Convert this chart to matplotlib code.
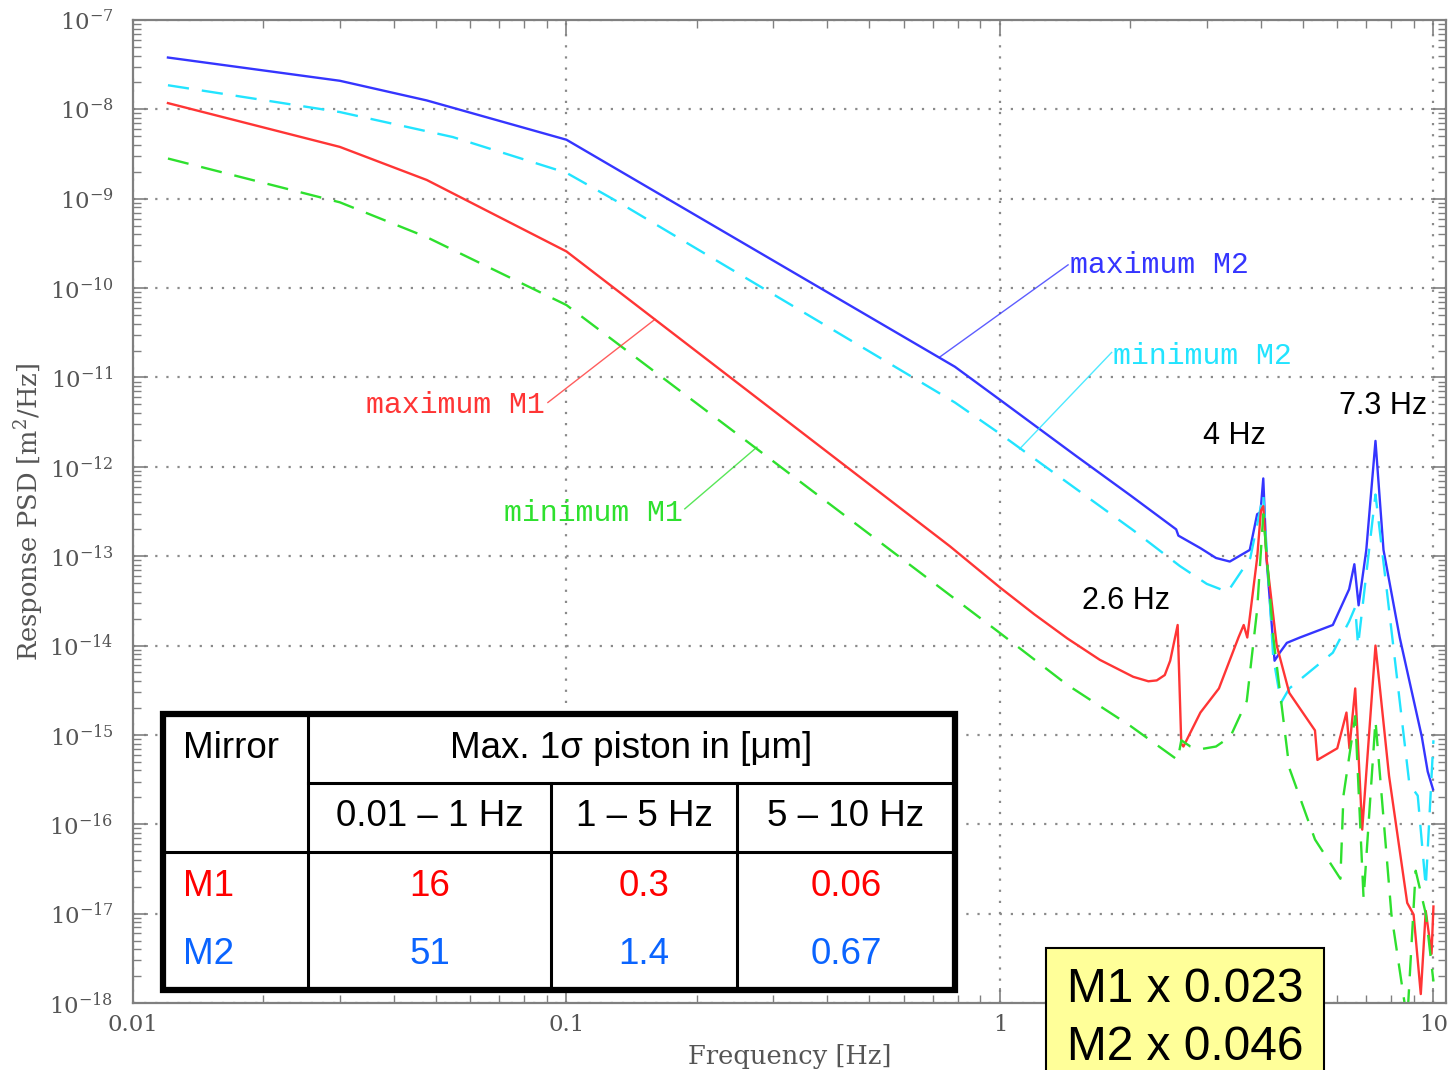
import numpy as np
import matplotlib
matplotlib.use("Agg")
import matplotlib.pyplot as plt
from matplotlib.ticker import LogLocator, FuncFormatter, NullFormatter
from matplotlib.patches import Rectangle

# --- response PSD curves: frequency [Hz] and log10(PSD [m^2/Hz]) ---
m2_max_f = [0.01204, 0.030, 0.0476, 0.1, 0.787, 1.0, 1.5, 2.0, 2.55, 2.58, 2.9, 3.15, 3.39,
            3.77, 3.92, 3.99, 4.05, 4.12, 4.3, 4.42, 4.59, 4.92, 5.86, 6.39, 6.57, 6.72,
            7.0, 7.35, 7.67, 8.36, 9.4, 9.7, 9.98]
m2_max_lg = [-7.42, -7.68, -7.90, -8.34, -10.88, -11.25, -11.88, -12.32, -12.70, -12.77, -12.91,
             -13.02, -13.06, -12.93, -12.53, -12.51, -12.13, -13.02, -14.17, -14.08, -13.97,
             -13.91, -13.77, -13.37, -13.09, -13.55, -12.93, -11.71, -12.93, -13.91, -15.02,
             -15.41, -15.61]

m2_min_f = [0.01204, 0.0215, 0.030, 0.0547, 0.1, 0.133, 0.62, 0.787, 1.0, 2.03, 2.6, 3.0, 3.35,
            3.78, 4.05, 4.27, 4.45, 4.65, 5.86, 6.39, 6.6, 6.7, 7.35, 7.8, 8.8, 9.2, 9.6, 10.0]
m2_min_lg = [-7.73, -7.92, -8.03, -8.31, -8.71, -9.05, -10.98, -11.28, -11.63, -12.71, -13.11,
             -13.31, -13.40, -13.02, -12.31, -14.13, -14.64, -14.48, -14.08, -13.73, -13.57,
             -14.00, -12.31, -13.37, -15.55, -15.68, -16.70, -15.06]

m1_max_f = [0.01204, 0.030, 0.0476, 0.1, 0.767, 1.0, 1.2, 1.43, 1.7, 2.03, 2.2, 2.3, 2.4, 2.47,
            2.57, 2.62, 2.65, 2.9, 3.2, 3.55, 3.65, 3.72, 3.92, 4.0, 4.05, 4.12, 4.35, 4.65,
            5.33, 5.4, 6.0, 6.3, 6.4, 6.6, 6.85, 7.35, 7.9, 8.7, 9.0, 9.35, 9.6, 9.9, 10.0]
m1_max_lg = [-7.93, -8.42, -8.79, -9.59, -12.89, -13.35, -13.65, -13.92, -14.16, -14.35, -14.40,
             -14.39, -14.33, -14.17, -13.77, -15.10, -15.13, -14.75, -14.48, -13.91, -13.77,
             -13.91, -13.02, -12.49, -12.44, -13.02, -14.00, -14.53, -14.95, -15.28, -15.15,
             -14.75, -15.15, -14.48, -16.06, -14.00, -15.46, -16.88, -17.01, -17.90, -16.97,
             -17.45, -16.92]

m1_min_f = [0.01204, 0.030, 0.0476, 0.1, 0.275, 1.0, 1.43, 2.0, 2.57, 2.62, 2.75, 2.9, 3.15,
            3.4, 3.71, 3.92, 4.05, 4.27, 4.65, 5.33, 6.1, 6.2, 6.6, 6.9, 7.35, 8.0, 8.7, 9.1,
            9.6, 10.0]
m1_min_lg = [-8.55, -9.04, -9.43, -10.19, -11.80, -13.86, -14.44, -14.90, -15.28, -15.06, -15.13,
             -15.16, -15.13, -15.02, -14.62, -13.60, -12.53, -13.90, -15.37, -16.17, -16.61,
             -15.68, -14.79, -16.83, -14.84, -17.01, -18.20, -16.52, -17.00, -17.76]

# resonance labels (frequency position, log10 height)
peak_text = ["2.6 Hz", "4 Hz", "7.3 Hz"]
peak_pos_f = [1.95, 3.47, 7.65]
peak_pos_lg = [-13.50, -11.66, -11.32]

# table of max 1-sigma piston
mirrors = ["M1", "M2"]
bands = ["0.01 \u2013 1 Hz", "1 \u2013 5 Hz", "5 \u2013 10 Hz"]
piston = [["16", "0.3", "0.06"], ["51", "1.4", "0.67"]]
scales = ["M1 x 0.023", "M2 x 0.046"]

c_blue, c_cyan, c_red, c_green = "#3535ff", "#22e4ff", "#ff3535", "#2ee02e"
t_red, t_blue = "#ff0000", "#0a64ff"

plt.rcParams["mathtext.fontset"] = "dejavuserif"

fig = plt.figure(figsize=(14.51, 10.70), dpi=100)
ax = fig.add_axes([133 / 1451, 1 - 1003 / 1070, (1446 - 133) / 1451, (1003 - 20) / 1070])

dash = (0, (9, 5.5))
ax.plot(m2_max_f, 10.0 ** np.array(m2_max_lg), color=c_blue, lw=1.7)
ax.plot(m2_min_f, 10.0 ** np.array(m2_min_lg), color=c_cyan, lw=1.7, ls=dash)
ax.plot(m1_max_f, 10.0 ** np.array(m1_max_lg), color=c_red, lw=1.7)
ax.plot(m1_min_f, 10.0 ** np.array(m1_min_lg), color=c_green, lw=1.7, ls=dash)

ax.set_xscale("log")
ax.set_yscale("log")
ax.set_xlim(0.01, 10.69)
ax.set_ylim(1e-18, 1e-7)

ax.xaxis.set_major_locator(LogLocator(base=10, numticks=10))
ax.yaxis.set_major_locator(LogLocator(base=10, numticks=20))
ax.xaxis.set_minor_locator(LogLocator(base=10, subs=np.arange(2, 10), numticks=10))
ax.yaxis.set_minor_locator(LogLocator(base=10, subs=np.arange(2, 10), numticks=20))
ax.xaxis.set_minor_formatter(NullFormatter())
ax.yaxis.set_minor_formatter(NullFormatter())
ax.xaxis.set_major_formatter(FuncFormatter(lambda v, p: "%g" % v))
ax.yaxis.set_major_formatter(FuncFormatter(lambda v, p: r"$10^{%d}$" % round(np.log10(v))))

ax.tick_params(which="both", direction="in", top=True, right=True, color="#808080")
ax.tick_params(which="major", length=11, width=1.2)
ax.tick_params(which="minor", length=6, width=1.0)
ax.tick_params(axis="y", which="major", labelsize=16.5, labelcolor="#555555", pad=14)
ax.tick_params(axis="x", which="major", labelsize=16.5, labelcolor="#555555", pad=8)
for lab in ax.get_xticklabels():
    lab.set_family("DejaVu Serif")
for s in ax.spines.values():
    s.set_color("#808080")
    s.set_linewidth(1.6)

ax.grid(True, which="major", ls=(0, (1, 4)), color="#8a8a8a", lw=1.6)
ax.set_xlabel("Frequency [Hz]", family="DejaVu Serif", fontsize=18.5, color="#555555",
              labelpad=6)
ax.set_ylabel(r"Response PSD [m$^2$/Hz]", family="DejaVu Serif", fontsize=18.5,
              color="#555555", labelpad=2)

# curve labels with leader lines
lab_font = dict(family="Liberation Mono", fontsize=21.5, va="center")
ax.plot([1.436, 0.727], [10 ** -9.74, 10 ** -10.77], color=c_blue, lw=1.0, alpha=0.8)
ax.text(1.45, 10 ** -9.74, "maximum M2", color=c_blue, ha="left", **lab_font)
ax.plot([1.81, 1.11], [10 ** -10.72, 10 ** -11.80], color=c_cyan, lw=1.0, alpha=0.8)
ax.text(1.82, 10 ** -10.76, "minimum M2", color=c_cyan, ha="left", **lab_font)
ax.plot([0.0906, 0.16], [10 ** -11.28, 10 ** -10.35], color=c_red, lw=1.0, alpha=0.8)
ax.text(0.089, 10 ** -11.31, "maximum M1", color=c_red, ha="right", **lab_font)
ax.plot([0.1875, 0.275], [10 ** -12.47, 10 ** -11.78], color=c_green, lw=1.0, alpha=0.8)
ax.text(0.185, 10 ** -12.52, "minimum M1", color=c_green, ha="right", **lab_font)

for f, lg, t in zip(peak_pos_f, peak_pos_lg, peak_text):
    ax.text(f, 10.0 ** lg, t, family="Liberation Sans", fontsize=22, ha="center", va="center")

# overlay in pixel units for the table and the scale box
ov = fig.add_axes([0, 0, 1, 1])
ov.set_xlim(0, 1451)
ov.set_ylim(1070, 0)
ov.axis("off")

cols = [163, 308, 551, 737, 955]
rows = [714, 783, 852, 990]
ov.add_patch(Rectangle((cols[0], rows[0]), cols[-1] - cols[0], rows[-1] - rows[0],
                       facecolor="white", edgecolor="none", zorder=3))
ov.plot([cols[1], cols[-1]], [rows[1], rows[1]], color="black", lw=2.2, zorder=4)
ov.plot([cols[0], cols[-1]], [rows[2], rows[2]], color="black", lw=2.2, zorder=4)
ov.plot([cols[1], cols[1]], [rows[0], rows[-1]], color="black", lw=2.2, zorder=4)
for cx in cols[2:4]:
    ov.plot([cx, cx], [rows[1], rows[-1]], color="black", lw=2.2, zorder=4)
ov.add_patch(Rectangle((cols[0], rows[0]), cols[-1] - cols[0], rows[-1] - rows[0],
                       facecolor="none", edgecolor="black", lw=4.5, zorder=5))

tfont = dict(family="Liberation Sans", fontsize=26.5, va="center", zorder=6)
ov.text(183, 748, "Mirror", ha="left", **tfont)
ov.text((cols[1] + cols[-1]) / 2, 748, "Max. 1\u03c3 piston in [\u03bcm]", ha="center", **tfont)
for i, b in enumerate(bands):
    ov.text((cols[i + 1] + cols[i + 2]) / 2, 817, b, ha="center", **tfont)
row_y = [886, 955]
for m, vals, col, ry in zip(mirrors, piston, [t_red, t_blue], row_y):
    ov.text(183, ry, m, ha="left", color=col, **tfont)
    for i, v in enumerate(vals):
        ov.text((cols[i + 1] + cols[i + 2]) / 2, ry, v, ha="center", color=col, **tfont)

ov.add_patch(Rectangle((1046, 948), 278, 200, facecolor="#ffff99", edgecolor="black",
                       lw=1.5, zorder=3))
for s, sy in zip(scales, [990, 1047]):
    ov.text(1067, sy, s, family="Liberation Sans", fontsize=34.5, ha="left", va="center",
            zorder=4)

fig.savefig("out.png", dpi=100)
